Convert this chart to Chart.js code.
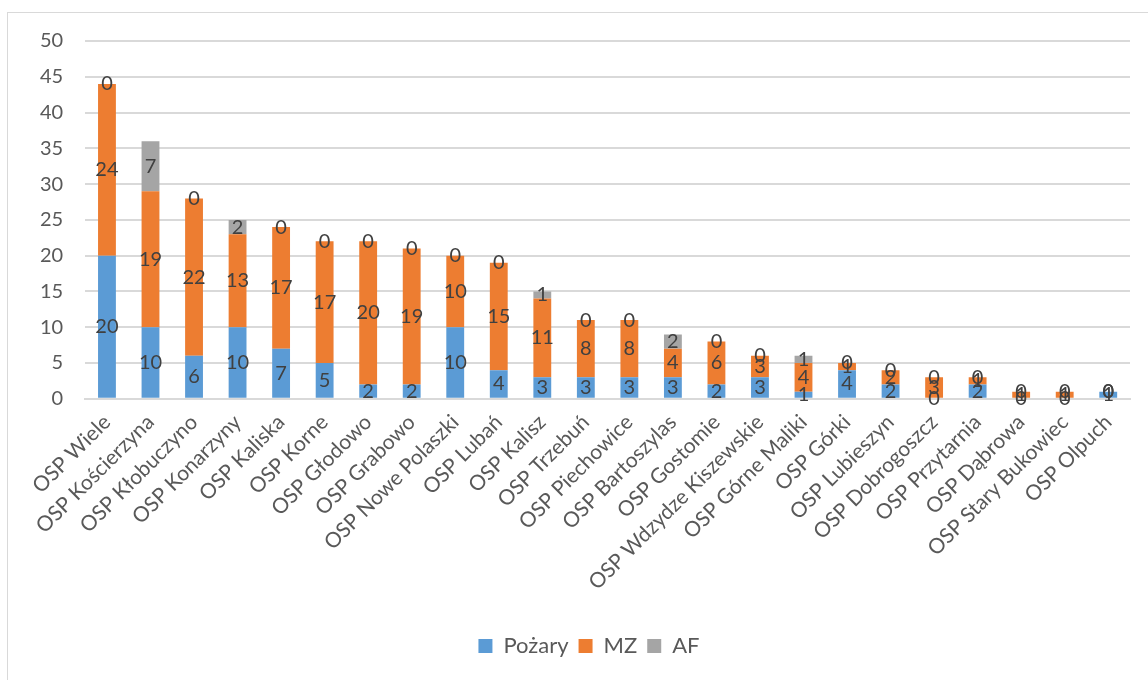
<!DOCTYPE html>
<html>
<head>
<meta charset="utf-8">
<script src="https://cdn.jsdelivr.net/npm/chart.js@4"></script>
<style>
  html, body { margin: 0; padding: 0; background: #fff; }
  #ramka { position: absolute; left: 7px; top: 12px; width: 1160px; height: 700px; border-left: 1px solid #d9d9d9; border-top: 1px solid #d9d9d9; }
  #wrap { position: absolute; left: 0; top: 0; width: 1148px; height: 680px; }
</style>
</head>
<body>
<div id="ramka"></div>
<div id="wrap"><canvas id="wykres" width="1148" height="680"></canvas></div>
<script>
// jednostki OSP i liczba zdarzeń
const jednostki = ['OSP Wiele', 'OSP Kościerzyna', 'OSP Kłobuczyno', 'OSP Konarzyny', 'OSP Kaliska',
  'OSP Korne', 'OSP Głodowo', 'OSP Grabowo', 'OSP Nowe Polaszki', 'OSP Lubań', 'OSP Kalisz',
  'OSP Trzebuń', 'OSP Piechowice', 'OSP Bartoszylas', 'OSP Gostomie', 'OSP Wdzydze Kiszewskie',
  'OSP Górne Maliki', 'OSP Górki', 'OSP Lubieszyn', 'OSP Dobrogoszcz', 'OSP Przytarnia',
  'OSP Dąbrowa', 'OSP Stary Bukowiec', 'OSP Olpuch'];
const pozary = [20, 10, 6, 10, 7, 5, 2, 2, 10, 4, 3, 3, 3, 3, 2, 3, 1, 4, 2, 0, 2, 0, 0, 1];
const mz     = [24, 19, 22, 13, 17, 17, 20, 19, 10, 15, 11, 8, 8, 4, 6, 3, 4, 1, 2, 3, 1, 1, 1, 0];
const af     = [0, 7, 0, 2, 0, 0, 0, 0, 0, 0, 1, 0, 0, 2, 0, 0, 1, 0, 0, 0, 0, 0, 0, 0];
const osY = [0, 5, 10, 15, 20, 25, 30, 35, 40, 45, 50];

const czcionka = 'Lato, "Liberation Sans", sans-serif';

// etykiety wartości w środku każdego segmentu
const etykiety = {
  id: 'etykiety',
  afterDatasetsDraw(chart) {
    const ctx = chart.ctx;
    ctx.save();
    ctx.font = '20px ' + czcionka;
    ctx.fillStyle = '#404040';
    ctx.textAlign = 'center';
    ctx.textBaseline = 'middle';
    chart.data.datasets.forEach((ds, i) => {
      const meta = chart.getDatasetMeta(i);
      meta.data.forEach((el, j) => {
        const p = el.getCenterPoint();
        ctx.fillText(String(ds.data[j]), p.x, p.y);
      });
    });
    ctx.restore();
  }
};

// legenda lekko przesunięta w prawo, jak w oryginale
const przesunLegende = {
  id: 'przesunLegende',
  afterLayout(chart) {
    if (chart.legend) {
      chart.legend.left += 15;
      chart.legend.right += 15;
    }
  }
};

const ctx = document.getElementById('wykres').getContext('2d');
new Chart(ctx, {
  type: 'bar',
  data: {
    labels: jednostki,
    datasets: [
      { label: 'Pożary', data: pozary, backgroundColor: '#5B9BD5' },
      { label: 'MZ', data: mz, backgroundColor: '#ED7D31' },
      { label: 'AF', data: af, backgroundColor: '#A5A5A5' }
    ]
  },
  options: {
    responsive: false,
    animation: false,
    layout: { padding: { left: 18, right: 18, top: 41, bottom: 13 } },
    datasets: { bar: { categoryPercentage: 1, barPercentage: 0.41 } },
    plugins: {
      legend: {
        position: 'bottom',
        labels: { font: { size: 22, family: czcionka }, color: '#595959', boxWidth: 14, boxHeight: 14, padding: 10 }
      },
      tooltip: { enabled: false }
    },
    scales: {
      x: {
        stacked: true,
        grid: { display: false },
        border: { color: '#d9d9d9', width: 2 },
        ticks: { minRotation: 45, maxRotation: 45, autoSkip: false, font: { size: 21, family: czcionka }, color: '#595959' },
        afterFit: skala => { skala.height += 27; }
      },
      y: {
        stacked: true,
        min: 0,
        max: 50,
        afterBuildTicks: axis => { axis.ticks = osY.map(v => ({ value: v })); },
        grid: { color: '#d9d9d9', lineWidth: 2, drawTicks: false },
        border: { display: false },
        ticks: { padding: 22, font: { size: 20, family: czcionka }, color: '#595959' }
      }
    }
  },
  plugins: [etykiety, przesunLegende]
});
</script>
</body>
</html>
